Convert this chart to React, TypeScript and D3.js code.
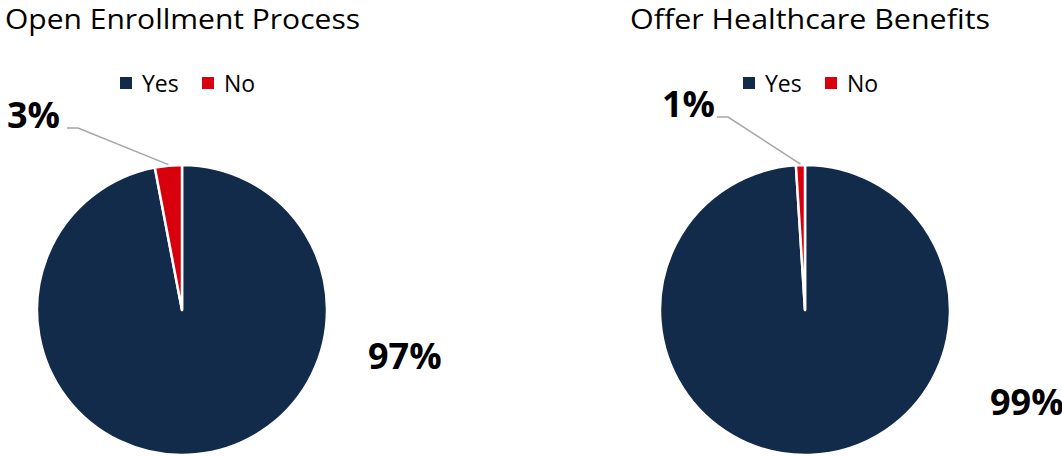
import React from "react";
import * as d3 from "d3";

const categories = ["Yes", "No"];
const chartTitles = ["Open Enrollment Process", "Offer Healthcare Benefits"];
const enrollmentValues = [97, 3];
const healthcareValues = [99, 1];
const colors = ["#132B4A", "#D9000D"];

const W = 1062;
const H = 457;

type PanelProps = {
  title: string;
  values: number[];
  cx: number;
  titleX: number;
  titleW: number;
  legendX: number;
  smallLabel: { dx: number; dy: number; lineX0: number };
  bigLabel: { dx: number; dy: number };
};

function Panel({ title, values, cx, titleX, titleW, legendX, smallLabel, bigLabel }: PanelProps) {
  const cy = 310;
  const r = 145;
  const pie = d3.pie<number>().sort(null).value((d) => d);
  const arcs = pie(values);
  const arc = d3.arc<d3.PieArcDatum<number>>().innerRadius(0).outerRadius(r);
  const noArc = arcs[1];
  const mid = (noArc.startAngle + noArc.endAngle) / 2;
  const edge: [number, number] = [cx + Math.sin(mid) * (r - 1), cy - Math.cos(mid) * (r - 1)];
  const fmt = (v: number) => `${Math.round((v / d3.sum(values)) * 100)}%`;
  const lblX = cx + smallLabel.dx;
  const lblY = cy + smallLabel.dy;
  return (
    <g>
      <text x={titleX} y={29} fontSize={27} fontFamily="Open Sans, sans-serif" fill="#000"
        textLength={titleW} lengthAdjust="spacingAndGlyphs">{title}</text>
      {categories.map((c, i) => (
        <g key={c} transform={`translate(${legendX + i * 82},0)`}>
          <rect x={0} y={77} width={12} height={12} fill={colors[i]} />
          <text x={22} y={92} fontSize={23} fontFamily="Open Sans, sans-serif" fill="#000">{c}</text>
        </g>
      ))}
      {arcs.map((a, i) => (
        <path key={i} d={arc(a) || ""} transform={`translate(${cx},${cy})`} fill={colors[i]}
          stroke="#fff" strokeWidth={2.5} strokeLinejoin="round" />
      ))}
      <polyline points={`${cx + smallLabel.lineX0},${lblY} ${cx + smallLabel.lineX0 + 11},${lblY} ${edge[0]},${edge[1] - 2}`}
        fill="none" stroke="#A6A6A6" strokeWidth={1.5} />
      <text x={lblX} y={lblY} fontSize={36} fontWeight="bold" fontFamily="Open Sans, sans-serif" fill="#000">{fmt(values[1])}</text>
      <text x={cx + bigLabel.dx} y={cy + bigLabel.dy} fontSize={36} fontWeight="bold" fontFamily="Open Sans, sans-serif" fill="#000">{fmt(values[0])}</text>
    </g>
  );
}

export default function App() {
  return (
    <svg width={W} height={H} style={{ position: "absolute", left: 0, top: 0, background: "#fff" }}>
      <Panel title={chartTitles[0]} values={enrollmentValues} cx={182} titleX={5} titleW={355}
        legendX={120} smallLabel={{ dx: -175, dy: -182, lineX0: -115 }} bigLabel={{ dx: 186, dy: 59 }} />
      <Panel title={chartTitles[1]} values={healthcareValues} cx={805} titleX={630} titleW={360}
        legendX={743} smallLabel={{ dx: -143, dy: -193, lineX0: -88 }} bigLabel={{ dx: 185, dy: 105 }} />
    </svg>
  );
}
